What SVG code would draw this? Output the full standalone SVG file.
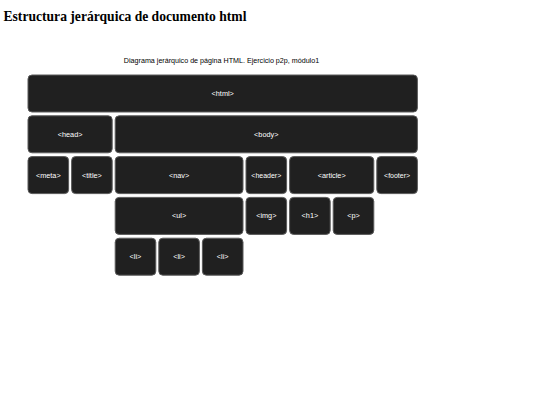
<svg xmlns="http://www.w3.org/2000/svg" width="540" height="405" viewBox="0 0 540 405">
<style>
.box{fill:#202020;stroke:#5a5a5a;stroke-width:1}
.lbl{fill:#ffffff;font-family:"Liberation Sans",Arial,sans-serif;font-size:7.3px;text-anchor:middle;dominant-baseline:central}
.title{font-family:"Liberation Serif","Times New Roman",serif;font-weight:bold;font-size:13.6px;fill:#000}
.cap{font-family:"Liberation Sans",Arial,sans-serif;font-size:7.15px;fill:#000;text-anchor:middle}
</style>
<rect width="540" height="405" fill="#ffffff"/>
<text class="title" x="3.5" y="21">Estructura jerárquica de documento html</text>
<text class="cap" x="221.5" y="62.5">Diagrama jerárquico de página HTML. Ejercicio p2p, módulo1</text>
<g id="html"><rect class="box" x="28" y="75" width="389.4" height="37" rx="4"/><text class="lbl" x="222.7" y="93.5">&lt;html&gt;</text></g>
<g id="head"><rect class="box" x="28" y="115.8" width="84.2" height="37" rx="4"/><text class="lbl" x="70.1" y="134.3">&lt;head&gt;</text></g>
<g id="body"><rect class="box" x="115.2" y="115.8" width="302.2" height="37" rx="4"/><text class="lbl" x="266.3" y="134.3">&lt;body&gt;</text></g>
<g id="meta"><rect class="box" x="28" y="156.6" width="40.6" height="37" rx="4"/><text class="lbl" x="48.3" y="175.1">&lt;meta&gt;</text></g>
<g id="title"><rect class="box" x="71.6" y="156.6" width="40.6" height="37" rx="4"/><text class="lbl" x="91.9" y="175.1">&lt;title&gt;</text></g>
<g id="nav"><rect class="box" x="115.2" y="156.6" width="127.8" height="37" rx="4"/><text class="lbl" x="179.1" y="175.1">&lt;nav&gt;</text></g>
<g id="header"><rect class="box" x="246" y="156.6" width="40.6" height="37" rx="4"/><text class="lbl" x="266.3" y="175.1" style="font-size:7px">&lt;header&gt;</text></g>
<g id="article"><rect class="box" x="289.6" y="156.6" width="84.2" height="37" rx="4"/><text class="lbl" x="331.7" y="175.1">&lt;article&gt;</text></g>
<g id="footer"><rect class="box" x="376.8" y="156.6" width="40.6" height="37" rx="4"/><text class="lbl" x="397.1" y="175.1" style="font-size:7px">&lt;footer&gt;</text></g>
<g id="ul"><rect class="box" x="115.2" y="197.4" width="127.8" height="37" rx="4"/><text class="lbl" x="179.1" y="215.9">&lt;ul&gt;</text></g>
<g id="img"><rect class="box" x="246" y="197.4" width="40.6" height="37" rx="4"/><text class="lbl" x="266.3" y="215.9">&lt;img&gt;</text></g>
<g id="h1"><rect class="box" x="289.6" y="197.4" width="40.6" height="37" rx="4"/><text class="lbl" x="309.9" y="215.9">&lt;h1&gt;</text></g>
<g id="p"><rect class="box" x="333.2" y="197.4" width="40.6" height="37" rx="4"/><text class="lbl" x="353.5" y="215.9">&lt;p&gt;</text></g>
<g id="li1"><rect class="box" x="115.2" y="238.2" width="40.6" height="37" rx="4"/><text class="lbl" x="135.5" y="256.7">&lt;li&gt;</text></g>
<g id="li2"><rect class="box" x="158.8" y="238.2" width="40.6" height="37" rx="4"/><text class="lbl" x="179.1" y="256.7">&lt;li&gt;</text></g>
<g id="li3"><rect class="box" x="202.4" y="238.2" width="40.6" height="37" rx="4"/><text class="lbl" x="222.7" y="256.7">&lt;li&gt;</text></g>
</svg>
